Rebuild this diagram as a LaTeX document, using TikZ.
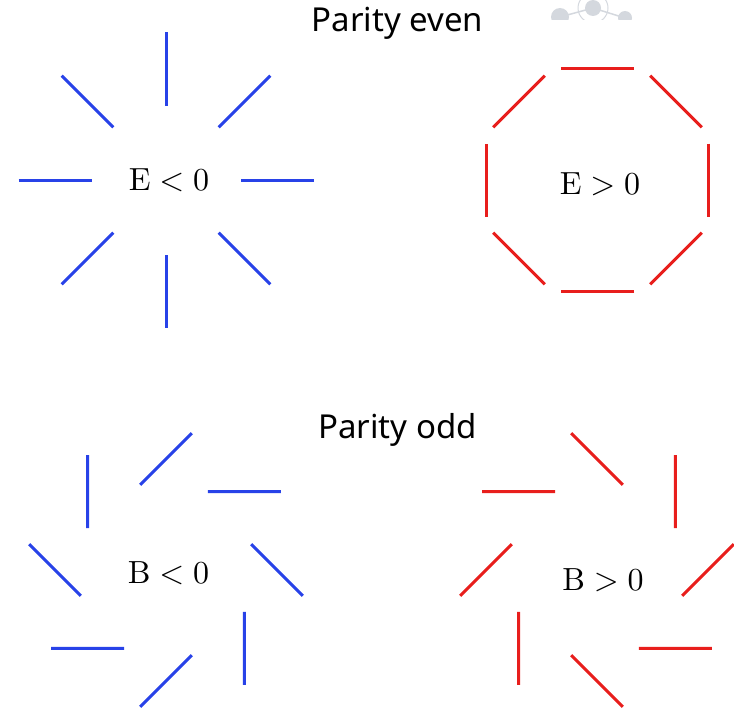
\documentclass[tikz,border=0pt]{standalone}
\usepackage{fontspec}
\newfontfamily\titlefont{Noto Sans}
\definecolor{segblue}{RGB}{40,66,232}
\definecolor{segred}{RGB}{232,30,28}
\definecolor{wmark}{RGB}{212,216,222}
\begin{document}
\begin{tikzpicture}[x=1pt,y=-1pt,
  bluel/.style={draw=segblue,line width=3pt},
  redl/.style={draw=segred,line width=3pt},
  mathlbl/.style={anchor=base,inner sep=0pt,scale=3.2},
  titlelbl/.style={anchor=base,inner sep=0pt,font=\titlefont\fontsize{33}{40}\selectfont}]
\useasboundingbox (0,0) rectangle (734,709);
% faint watermark at top right
\begin{scope}
  \clip (520,0) rectangle (660,20);
  \draw[wmark,line width=1.5pt] (560,17) -- (593,8) -- (625,18);
  \draw[wmark,line width=1pt] (593,8) circle (15);
  \fill[wmark] (560,17) circle (9);
  \fill[wmark] (593,8) circle (8);
  \fill[wmark] (625,18) circle (7);
\end{scope}
% titles
\node[titlelbl] (teven) at (397.5,32) {Parity even};
\node[titlelbl] (todd) at (397.5,438) {Parity odd};
% E < 0 : radial segments
\begin{scope}[shift={(166,180)},yscale=-1]
  \foreach \t in {0,45,...,315}
    \draw[bluel,rotate=\t] (111,0) ++(0:36.5) -- ++(180:73);
\end{scope}
\node[mathlbl] (elt) at (169,190) {$\mathrm{E}<0$};
% E > 0 : tangential segments
\begin{scope}[shift={(597.5,180)},yscale=-1]
  \foreach \t in {0,45,...,315}
    \draw[redl,rotate=\t] (111,0) ++(90:36.5) -- ++(270:73);
\end{scope}
\node[mathlbl] (egt) at (600,194) {$\mathrm{E}>0$};
% B < 0
\begin{scope}[shift={(166,570)},yscale=-1]
  \foreach \t in {0,45,...,315}
    \draw[bluel,rotate=\t] (111,0) ++(-45:36.5) -- ++(135:73);
\end{scope}
\node[mathlbl] (blt) at (168.5,583.5) {$\mathrm{B}<0$};
% B > 0
\begin{scope}[shift={(597,570)},yscale=-1]
  \foreach \t in {0,45,...,315}
    \draw[redl,rotate=\t] (111,0) ++(45:36.5) -- ++(225:73);
\end{scope}
\node[mathlbl] (bgt) at (603,590) {$\mathrm{B}>0$};
\end{tikzpicture}
\end{document}
